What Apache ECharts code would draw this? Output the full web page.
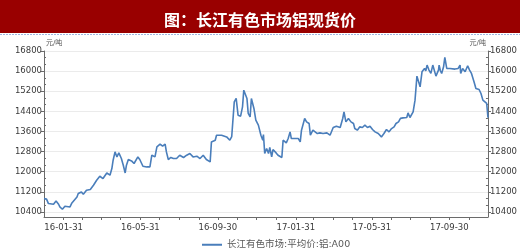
<!DOCTYPE html>
<html><head><meta charset="utf-8">
<script src="https://cdn.jsdelivr.net/npm/echarts@6/dist/echarts.min.js"></script>
<style>html,body{margin:0;padding:0;background:#fff}#c{width:520px;height:250px}</style>
</head><body><div id="c"></div>
<script>
const titleText = '图：长江有色市场铝现货价';
const seriesName = '长江有色市场:平均价:铝:A00';
const unitName = '元/吨';
const dates = [
'2015-12-31','2016-01-04','2016-01-07','2016-01-15','2016-01-19','2016-01-23','2016-01-25','2016-01-29',
'2016-02-02','2016-02-10','2016-02-13','2016-02-15','2016-02-21','2016-02-23','2016-02-28','2016-03-02',
'2016-03-07','2016-03-13','2016-03-18','2016-03-23','2016-03-28','2016-04-02','2016-04-08','2016-04-13',
'2016-04-16','2016-04-18','2016-04-21','2016-04-24','2016-04-27','2016-05-01','2016-05-04','2016-05-07',
'2016-05-09','2016-05-12','2016-05-17','2016-05-21','2016-05-24','2016-05-27','2016-05-30','2016-06-04',
'2016-06-10','2016-06-15','2016-06-18','2016-06-23','2016-06-26','2016-07-01','2016-07-05','2016-07-09',
'2016-07-11','2016-07-14','2016-07-18','2016-07-22','2016-07-27','2016-08-01','2016-08-07','2016-08-12',
'2016-08-17','2016-08-22','2016-08-28','2016-09-02','2016-09-07','2016-09-12','2016-09-18','2016-09-20',
'2016-09-26','2016-09-28','2016-10-06','2016-10-14','2016-10-19','2016-10-22','2016-10-26','2016-10-29',
'2016-11-01','2016-11-05','2016-11-08','2016-11-10','2016-11-12','2016-11-15','2016-11-17','2016-11-20',
'2016-11-22','2016-11-26','2016-11-29','2016-12-03','2016-12-07','2016-12-10','2016-12-11','2016-12-13',
'2016-12-16','2016-12-19','2016-12-21','2016-12-24','2016-12-26','2016-12-31','2017-01-03','2017-01-09',
'2017-01-11','2017-01-16','2017-01-19','2017-01-22','2017-01-24','2017-01-30','2017-02-04','2017-02-07',
'2017-02-09','2017-02-12','2017-02-14','2017-02-17','2017-02-21','2017-02-23','2017-02-27','2017-03-02',
'2017-03-06','2017-03-10','2017-03-15','2017-03-21','2017-03-26','2017-03-31','2017-04-05','2017-04-11',
'2017-04-15','2017-04-17','2017-04-20','2017-04-24','2017-04-28','2017-05-02','2017-05-04','2017-05-08',
'2017-05-12','2017-05-16','2017-05-20','2017-05-24','2017-05-28','2017-06-01','2017-06-05','2017-06-10',
'2017-06-15','2017-06-19','2017-06-23','2017-06-27','2017-07-01','2017-07-05','2017-07-08','2017-07-12',
'2017-07-15','2017-07-19','2017-07-25','2017-07-27','2017-07-30','2017-08-02','2017-08-04','2017-08-07',
'2017-08-10','2017-08-12','2017-08-15','2017-08-16','2017-08-18','2017-08-20','2017-08-22','2017-08-24',
'2017-08-26','2017-08-29','2017-09-01','2017-09-04','2017-09-06','2017-09-09','2017-09-13','2017-09-14',
'2017-09-16','2017-09-18','2017-09-21','2017-09-23','2017-09-26','2017-10-01','2017-10-09','2017-10-14',
'2017-10-17','2017-10-18','2017-10-21','2017-10-25','2017-10-29','2017-11-01','2017-11-04','2017-11-08',
'2017-11-11','2017-11-13','2017-11-16','2017-11-19','2017-11-22','2017-11-25','2017-11-28','2017-11-30'
];
const prices = [
10930,10910,10734,10706,10838,10706,10600,10507,
10626,10600,10758,10800,10997,11132,11196,11104,
11264,11292,11463,11662,11821,11729,11952,11861,
12127,12458,12788,12589,12748,12525,12259,11952,
12259,12486,12430,12327,12298,12589,12486,12219,
12191,12191,12657,12589,12987,13094,13015,13094,
12788,12486,12566,12525,12525,12657,12566,12657,
12724,12589,12617,12525,12657,12486,12390,13186,
13253,13452,13452,13385,13253,13400,14778,14913,
14249,14209,14580,15243,15310,14913,14316,14183,
14913,14515,14050,13851,13452,13253,13478,12724,
12923,12724,12962,12589,12883,12748,12657,12566,
13253,13147,13319,13584,13319,13319,13319,13186,
13651,13717,14116,13982,13917,13452,13651,13717,
13518,13545,13518,13545,13452,13758,13811,13758,
14116,14382,13982,14116,13982,13917,13717,13651,
13784,13758,13851,13758,13811,13678,13584,13518,
13385,13518,13678,13584,13717,13784,13917,13982,
14120,14140,14156,14341,14156,14077,14382,14846,
15801,15750,15376,15350,15974,15908,16107,16014,
16240,16041,15908,16240,16173,15801,16041,16240,
16014,15908,16173,16545,16107,16107,16081,16107,
16240,15908,16107,15974,16213,16041,15908,15576,
15310,15350,15270,15111,14846,14778,14714,14150
];
const yMin = 10200, yMax = 16800;
const yMajorTicks = [10400,11200,12000,12800,13600,14400,15200,16000,16800];
const xStart = '2015-12-31', xEnd = '2017-11-30';
const xMonthTicks = ['2016-01-31','2016-02-29','2016-03-31','2016-04-30','2016-05-31','2016-06-30',
'2016-07-31','2016-08-31','2016-09-30','2016-10-31','2016-11-30','2016-12-31','2017-01-31','2017-02-28',
'2017-03-31','2017-04-30','2017-05-31','2017-06-30','2017-07-31','2017-08-31','2017-09-30','2017-10-31'];
const xLabelTicks = ['2016-01-31','2016-05-31','2016-09-30','2017-01-31','2017-05-31','2017-09-30'];

const ts = s => Date.parse(s + 'T00:00:00Z');
const yMinorTicks = [];
yMajorTicks.forEach(m => { [800/3, 1600/3].forEach(s => { if (m + s < yMax) yMinorTicks.push(m + s); }); });

const numFont = '"DejaVu Sans", "Noto Sans CJK SC", sans-serif';
const axisColor = '#6b6b6b';
const labelColor = '#3a3a3a';
const pad = n => (n < 10 ? '0' : '') + n;
const fmtDate = v => { const d = new Date(v); return pad(d.getUTCFullYear() % 100) + '-' + pad(d.getUTCMonth() + 1) + '-' + pad(d.getUTCDate()); };

function majorAxis(pos) {
  return {
    type: 'value', position: pos, min: yMin, max: yMax,
    name: unitName, nameLocation: 'end', nameGap: 2,
    nameTextStyle: { fontSize: 7, color: '#555', fontFamily: numFont, align: pos === 'left' ? 'left' : 'right', padding: pos === 'left' ? [0,0,0,2] : [0,2,0,0] },
    axisLine: { show: true, lineStyle: { color: axisColor, width: 1 } },
    axisTick: { show: true, inside: false, length: 3, customValues: yMajorTicks, lineStyle: { color: axisColor } },
    axisLabel: { show: true, margin: 2, customValues: yMajorTicks, formatter: v => String(Math.round(v)), fontSize: 8.5, color: labelColor, fontFamily: numFont },
    splitLine: { show: pos === 'left', lineStyle: { color: '#ebebeb', width: 1 } }
  };
}
function minorAxis(pos) {
  return {
    type: 'value', position: pos, min: yMin, max: yMax,
    axisLine: { show: false },
    axisTick: { show: true, inside: true, length: 2, customValues: yMinorTicks, lineStyle: { color: axisColor } },
    axisLabel: { show: false },
    splitLine: { show: false }
  };
}

const chart = echarts.init(document.getElementById('c'), null, { renderer: 'canvas' });
chart.setOption({
  animation: false,
  backgroundColor: '#fff',
  graphic: [
    { type: 'rect', left: 0, top: 0, shape: { width: 520, height: 33 }, style: { fill: '#990000' }, z: 0 },
    { type: 'line', shape: { x1: 0, y1: 34.5, x2: 520, y2: 34.5 }, style: { stroke: '#9fb6e0', lineWidth: 1, lineDash: [2, 1] } }
  ],
  title: {
    text: titleText, left: 'center', top: 7,
    textStyle: { color: '#fff', fontSize: 16, fontWeight: 'bold', fontFamily: '"Noto Sans CJK SC", sans-serif' }
  },
  legend: {
    left: 197, top: 235, itemWidth: 20, itemHeight: 2, icon: 'rect',
    textStyle: { fontSize: 9.5, color: '#595959', fontFamily: numFont },
    data: [seriesName]
  },
  grid: { left: 44, right: 32, top: 51, bottom: 33, containLabel: false },
  xAxis: {
    type: 'value', min: ts(xStart), max: ts(xEnd),
    axisLine: { show: true, onZero: false, lineStyle: { color: axisColor, width: 1 } },
    axisTick: { show: true, length: 3, customValues: xMonthTicks.map(ts), lineStyle: { color: axisColor } },
    axisLabel: { customValues: xLabelTicks.map(ts), formatter: fmtDate, fontSize: 8.5, color: labelColor, fontFamily: numFont, margin: 7, hideOverlap: false },
    splitLine: { show: false }
  },
  yAxis: [majorAxis('left'), minorAxis('left'), majorAxis('right'), minorAxis('right')],
  series: [{
    name: seriesName, type: 'line', yAxisIndex: 0, showSymbol: false, symbol: 'none',
    lineStyle: { color: '#4a7ebb', width: 1.6 }, itemStyle: { color: '#4a7ebb' },
    data: dates.map((d, i) => [ts(d), prices[i]])
  }]
});
</script></body></html>
